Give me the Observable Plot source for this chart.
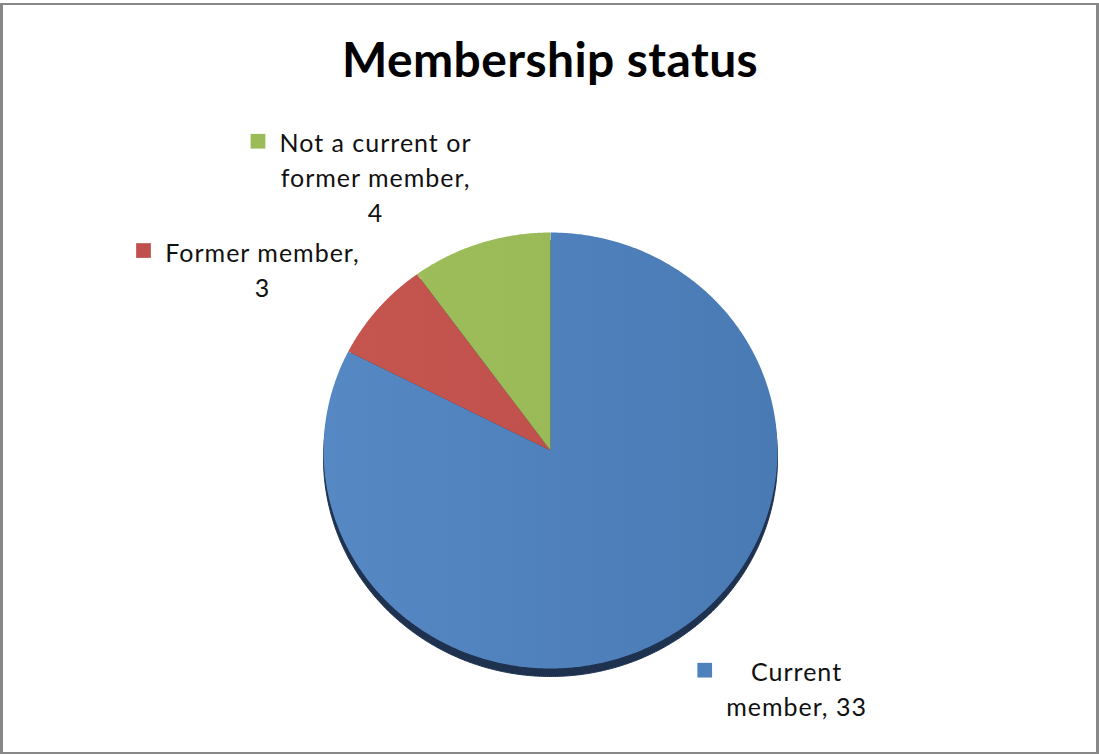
<!DOCTYPE html>
<html><head><meta charset="utf-8">
<script src="https://cdn.jsdelivr.net/npm/d3@7"></script>
<script src="https://cdn.jsdelivr.net/npm/@observablehq/plot@0.6"></script>
<style>
body{margin:0;background:#fff;}
#frame{position:absolute;left:0;top:3px;width:1099px;height:751px;box-sizing:border-box;border-style:solid;border-color:#888;border-width:2px 3px;}
#chart{position:absolute;left:0;top:0;}
</style></head><body>
<div id="frame"></div><div id="chart"></div>
<script>
// ---- data ----
const title = "Membership status";
const categories = ["Current member", "Former member", "Not a current or former member"];
const values = [33, 3, 4];
const colors = ["#4F81BD", "#C0504D", "#9BBB59"];
const labelLines = [["Current", "member, 33"], ["Former member,", "3"], ["Not a current or", "former member,", "4"]];
// label block centres, in pie-radius units (layout)
const labelAnchorX = [1.084, -1.269, -0.771];
const labelAnchorY = [1.088, -0.837, -1.258];

// ---- layout ----
const W = 1099, H = 756;
const xRange = [323, 777], yRange = [232, 668];
const fontFamily = "Lato, 'Open Sans', sans-serif";
const labelSize = 25, lineH = 35, labelSpacing = 1;
const xs = d3.scaleLinear([-1, 1], xRange), ys = d3.scaleLinear([-1, 1], yRange);

const arcs = d3.pie().sort(null).value(d => d)(values);
const slices = arcs.map((a, i) => {
  const pts = [{x: 0, y: 0}];
  const n = Math.max(2, Math.ceil((a.endAngle - a.startAngle) / (Math.PI / 360)));
  for (let k = 0; k <= n; k++) {
    const t = a.startAngle + (a.endAngle - a.startAngle) * k / n;
    pts.push({x: Math.sin(t), y: -Math.cos(t)});
  }
  pts.push({x: 0, y: 0});
  return {name: categories[i], pts, i};
});

const ctx = document.createElement("canvas").getContext("2d");
ctx.font = `${labelSize}px Lato`;
const labels = labelLines.map((lines, i) => ({
  text: lines.join("\n"), x: labelAnchorX[i], y: labelAnchorY[i], i
}));
const keys = labelLines.map((lines, i) => {
  const maxW = d3.max(lines, l => ctx.measureText(l).width + labelSpacing * l.length);
  const cx = xs(labelAnchorX[i]);
  const cy = ys(labelAnchorY[i]) - (lines.length - 1) / 2 * lineH;
  return {x: xs.invert(cx - maxW / 2 - 14 - 7.5), y: ys.invert(cy), i};
});

const marks = [];
slices.forEach(s => marks.push(Plot.line(s.pts, {x: "x", y: "y", fill: "#1E3250", stroke: "#1E3250", strokeWidth: 1, dy: 8, className: "pieshadow"})));
slices.forEach(s => marks.push(Plot.line(s.pts, {x: "x", y: "y", fill: `url(#grad${s.i})`, stroke: "none"})));
marks.push(Plot.dot(keys, {x: "x", y: "y", symbol: "square", r: 8.3, fill: d => colors[d.i], stroke: "none"}));
marks.push(Plot.text(labels, {x: "x", y: "y", text: "text", fontSize: labelSize, lineHeight: lineH / labelSize, lineAnchor: "middle", textAnchor: "middle", fill: "#111", className: "lbl"}));
marks.push(Plot.text([title], {frameAnchor: "top", dy: 61, text: d => d, fontSize: 48, fontWeight: "bold", lineAnchor: "middle", fill: "#000", className: "ttl"}));

const chart = Plot.plot({
  width: W, height: H, margin: 0,
  x: {domain: [-1, 1], range: xRange, axis: null},
  y: {domain: [-1, 1], range: yRange, axis: null},
  style: {background: "transparent", fontFamily},
  marks
});

const svg = d3.select(chart);
const defs = svg.insert("defs", ":first-child");
const gradStops = [["#5688C4", "#497AB4"], ["#C6554F", "#B94D49"], ["#9FBF5D", "#95B553"]];
gradStops.forEach((g, i) => {
  const lg = defs.append("linearGradient").attr("id", `grad${i}`).attr("gradientUnits", "userSpaceOnUse")
    .attr("x1", xRange[0]).attr("x2", xRange[1]).attr("y1", 0).attr("y2", 0);
  lg.append("stop").attr("offset", 0).attr("stop-color", g[0]);
  lg.append("stop").attr("offset", 1).attr("stop-color", g[1]);
});
svg.selectAll(".lbl text").style("letter-spacing", labelSpacing + "px");
svg.selectAll(".ttl text").style("letter-spacing", "0.4px");

document.getElementById("chart").appendChild(chart);
</script>
</body></html>
